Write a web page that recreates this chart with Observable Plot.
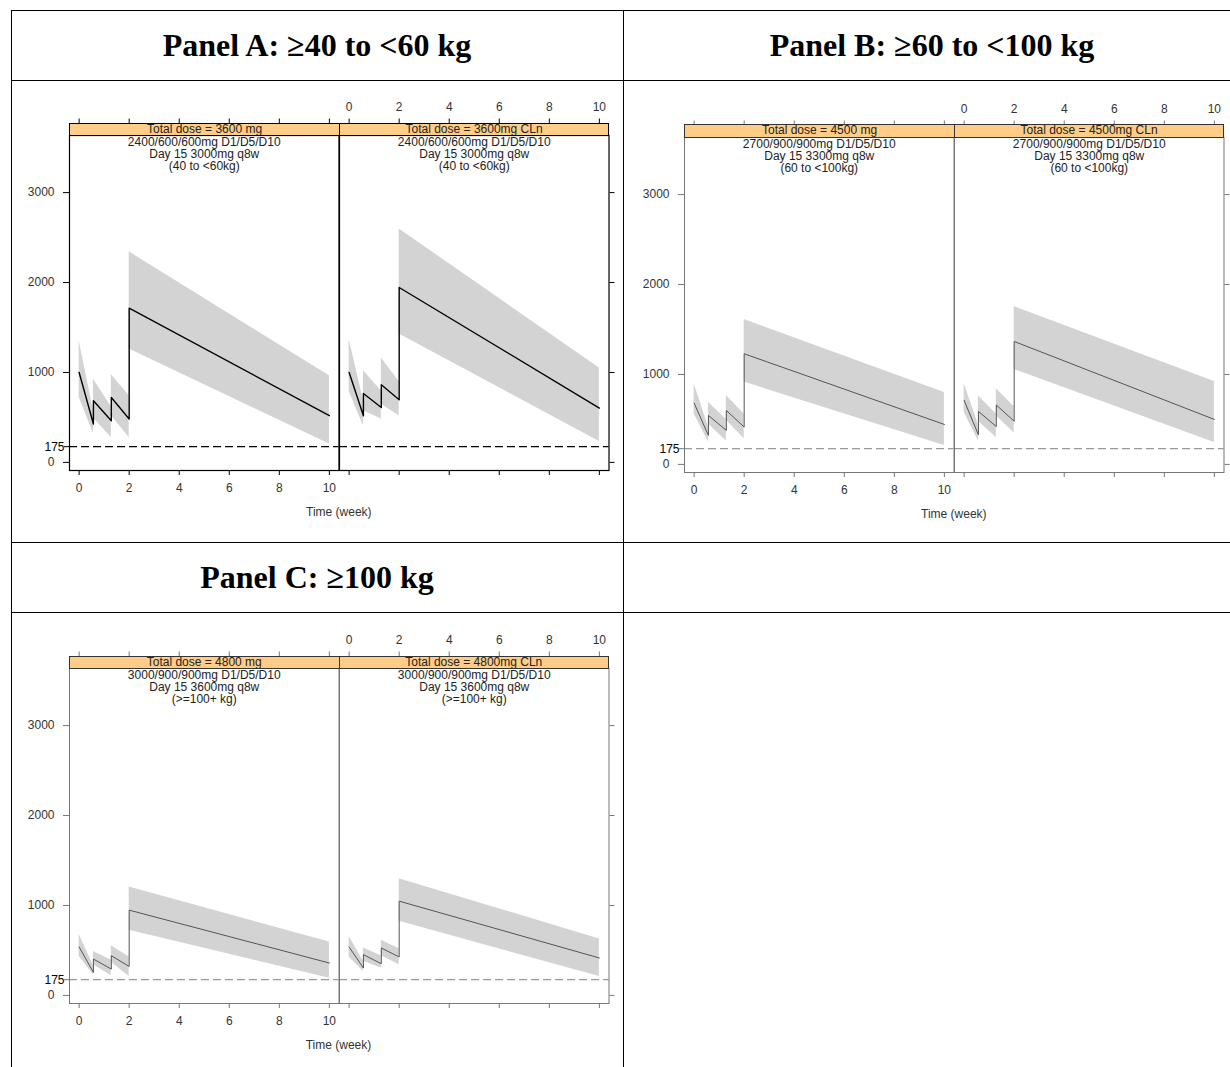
<!DOCTYPE html>
<html><head><meta charset="utf-8">
<script src="https://cdn.jsdelivr.net/npm/d3@7"></script>
<script src="https://cdn.jsdelivr.net/npm/@observablehq/plot@0.6"></script>
<style>
body{margin:0;background:#fff;}
#page{position:relative;width:1230px;height:1067px;overflow:hidden;font-family:"Liberation Sans",Arial,sans-serif;background:#fff;}
.ln{position:absolute;background:#000;}
.hdr{position:absolute;display:flex;align-items:center;justify-content:center;font-family:"Liberation Serif","Times New Roman",serif;font-weight:bold;font-size:32px;color:#000;white-space:nowrap;}
.strip{position:absolute;box-sizing:border-box;border:1px solid #000;text-align:center;font-size:12px;line-height:11px;color:#222;white-space:nowrap;overflow:hidden;}
.fac{position:absolute;}
.fac svg{max-width:none !important;display:block;}
.xlab{position:absolute;font-size:12px;color:#333;transform:translate(-50%,-50%);white-space:nowrap;}
</style></head>
<body><div id="page"></div>
<script>
// ---- data ----
const weeks = [0, 0.571, 0.571, 1.286, 1.286, 2, 2, 10];
const xTicks = [0, 2, 4, 6, 8, 10];
const yTicks = [0, 1000, 2000, 3000];
const threshold = [175];
const panelTitles = ["Panel A: ≥40 to <60 kg", "Panel B: ≥60 to <100 kg", "Panel C: ≥100 kg"];
const xTitle = "Time (week)";

const stripA = ["Total dose = 3600 mg", "Total dose = 3600mg CLn"];
const infoA = ["2400/600/600mg D1/D5/D10", "Day 15 3000mg q8w", "(40 to <60kg)"];
const stripB = ["Total dose = 4500 mg", "Total dose = 4500mg CLn"];
const infoB = ["2700/900/900mg D1/D5/D10", "Day 15 3300mg q8w", "(60 to <100kg)"];
const stripC = ["Total dose = 4800 mg", "Total dose = 4800mg CLn"];
const infoC = ["3000/900/900mg D1/D5/D10", "Day 15 3600mg q8w", "(>=100+ kg)"];

// Panel A
const medA1 = [1000, 427, 685, 463, 722, 482, 1715, 519];
const loA1  = [722, 322, 495, 278, 520, 278, 1260, 204];
const hiA1  = [1352, 580, 926, 620, 975, 741, 2341, 963];
const medA2 = [1000, 519, 767, 611, 863, 697, 1945, 604];
const loA2  = [790, 408, 575, 482, 647, 519, 1427, 233];
const hiA2  = [1370, 690, 1019, 795, 1160, 900, 2596, 1049];
// Panel B
const medB1 = [681, 322, 544, 378, 600, 415, 1230, 444];
const loB1  = [563, 248, 450, 259, 490, 285, 915, 211];
const hiB1  = [896, 420, 692, 500, 767, 560, 1611, 800];
const medB2 = [711, 330, 590, 420, 660, 480, 1367, 500];
const loB2  = [580, 260, 480, 300, 540, 350, 1055, 244];
const hiB2  = [900, 440, 760, 560, 840, 640, 1755, 922];
// Panel C
const medC1 = [539, 255, 404, 293, 441, 322, 948, 360];
const loC1  = [434, 229, 340, 218, 370, 210, 724, 192];
const hiC1  = [676, 330, 489, 390, 553, 427, 1205, 594];
const medC2 = [537, 304, 453, 352, 527, 427, 1048, 416];
const loC2  = [427, 266, 380, 304, 440, 341, 825, 210];
const hiC2  = [657, 380, 527, 440, 612, 520, 1298, 628];

// ---- layout ----
const page = document.getElementById("page");
const FW = 269.5, PH = 335, SH = 12.5;
const themeA = {line:"#000", lineW:1.4, dash:"#000", dashW:1.3, frame:"#000", frameW:1.2, axis:"#000"};
const themeBC = {line:"#555", lineW:1, dash:"#9a9a9a", dashW:1.3, frame:"#777", frameW:1, axis:"#777"};
const fmt = d => String(d);

function el(cls, css, text) {
  const d = document.createElement("div");
  d.className = cls;
  Object.assign(d.style, css);
  if (text != null) d.textContent = text;
  page.appendChild(d);
  return d;
}

// table lines
el("ln", {left:"11px", top:"9.5px", width:"1230px", height:"1.5px"});
el("ln", {left:"10.5px", top:"9.5px", width:"1.5px", height:"1070px"});
el("ln", {left:"622.5px", top:"10px", width:"1px", height:"1070px"});
el("ln", {left:"11px", top:"80px", width:"1230px", height:"1px"});
el("ln", {left:"11px", top:"542px", width:"1230px", height:"1px"});
el("ln", {left:"11px", top:"612px", width:"612px", height:"1px"});
el("ln", {left:"623px", top:"612px", width:"620px", height:"1px"});

el("hdr", {left:"11px", top:"10px", width:"612px", height:"70px"}, panelTitles[0]);
el("hdr", {left:"623px", top:"10px", width:"618px", height:"70px"}, panelTitles[1]);
el("hdr", {left:"11px", top:"542px", width:"612px", height:"70px"}, panelTitles[2]);

function rowsOf(med, lo, hi) {
  return weeks.map((t, i) => ({t, med: med[i], lo: lo[i], hi: hi[i]}));
}

function facet(rows, side, info, theme) {
  const left = side === "left";
  const mL = left ? 60 : 0, mR = left ? 0 : 24, mT = 40, mB = 40;
  const marks = [
    Plot.areaY(rows, {x: "t", y1: "lo", y2: "hi", fill: "#d3d3d3"}),
    Plot.ruleY(threshold, {stroke: theme.dash, strokeWidth: theme.dashW, strokeDasharray: "8,4"}),
    Plot.lineY(rows, {x: "t", y: "med", stroke: theme.line, strokeWidth: theme.lineW}),
    Plot.frame({stroke: theme.frame, strokeWidth: theme.frameW}),
    Plot.text([info.join("\n")], {text: d => d, frameAnchor: "top", lineAnchor: "top", dy: 1.5, lineHeight: 1.03, fontSize: 12, fill: "#222"})
  ];
  if (left) {
    marks.push(
      Plot.axisY({ticks: yTicks, anchor: "left", tickSize: 6, tickPadding: 9, tickFormat: fmt, stroke: theme.axis, fill: "#333", fontSize: 12, label: null}),
      Plot.axisY({ticks: threshold, anchor: "left", tickSize: 5, tickPadding: 0, tickFormat: fmt, stroke: theme.axis, fill: "#000", fontSize: 12, label: null}),
      Plot.axisX({ticks: xTicks, anchor: "bottom", tickSize: 5, tickPadding: 8, tickFormat: fmt, stroke: theme.axis, fill: "#333", fontSize: 12, label: null}),
      Plot.axisX({ticks: xTicks, anchor: "top", tickSize: 5, tickFormat: () => "", dy: -SH, stroke: theme.axis, label: null})
    );
  } else {
    marks.push(
      Plot.axisY({ticks: yTicks, anchor: "right", tickSize: 5, tickFormat: () => "", stroke: theme.axis, label: null}),
      Plot.axisX({ticks: xTicks, anchor: "bottom", tickSize: 5, tickFormat: () => "", stroke: theme.axis, label: null}),
      Plot.axisX({ticks: xTicks, anchor: "top", tickSize: 5, tickPadding: 7, tickFormat: fmt, dy: -SH, stroke: theme.axis, fill: "#333", fontSize: 12, label: null})
    );
  }
  return Plot.plot({
    width: mL + FW + mR, height: mT + PH + mB,
    marginLeft: mL, marginRight: mR, marginTop: mT, marginBottom: mB,
    x: {domain: [-0.385, 10.385], label: null},
    y: {domain: [-90, 3635], label: null},
    style: {fontFamily: '"Liberation Sans", Arial, sans-serif', background: "transparent", overflow: "visible", color: "#333", maxWidth: "none"},
    marks
  });
}

function chart(frameLeft, plotTop, strips, info, data1, data2, theme) {
  const mL = 60, mT = 40;
  const s1 = facet(data1, "left", info, theme);
  const w1 = el("fac", {left: (frameLeft - mL) + "px", top: (plotTop - mT) + "px", width: (mL + FW) + "px"});
  w1.appendChild(s1);
  const s2 = facet(data2, "right", info, theme);
  const w2 = el("fac", {left: (frameLeft + FW) + "px", top: (plotTop - mT) + "px", width: (FW + 24) + "px"});
  w2.appendChild(s2);
  const sc = theme === themeA ? "#000" : "#333";
  el("strip", {left: frameLeft + "px", top: (plotTop - SH) + "px", width: (FW + 1) + "px", height: (SH + 1) + "px", background: "#ffcd87", borderColor: sc}, strips[0]);
  el("strip", {left: (frameLeft + FW) + "px", top: (plotTop - SH) + "px", width: (FW + 1) + "px", height: (SH + 1) + "px", background: "#ffcd87", borderColor: sc}, strips[1]);
  el("xlab", {left: (frameLeft + FW) + "px", top: (plotTop + PH + 42) + "px"}, xTitle);
}

chart(69.3, 135.2, stripA, infoA, rowsOf(medA1, loA1, hiA1), rowsOf(medA2, loA2, hiA2), themeA);
chart(684.3, 136.5, stripB, infoB, rowsOf(medB1, loB1, hiB1), rowsOf(medB2, loB2, hiB2), themeBC);
chart(69.0, 668.3, stripC, infoC, rowsOf(medC1, loC1, hiC1), rowsOf(medC2, loC2, hiC2), themeBC);
</script>
</body></html>
